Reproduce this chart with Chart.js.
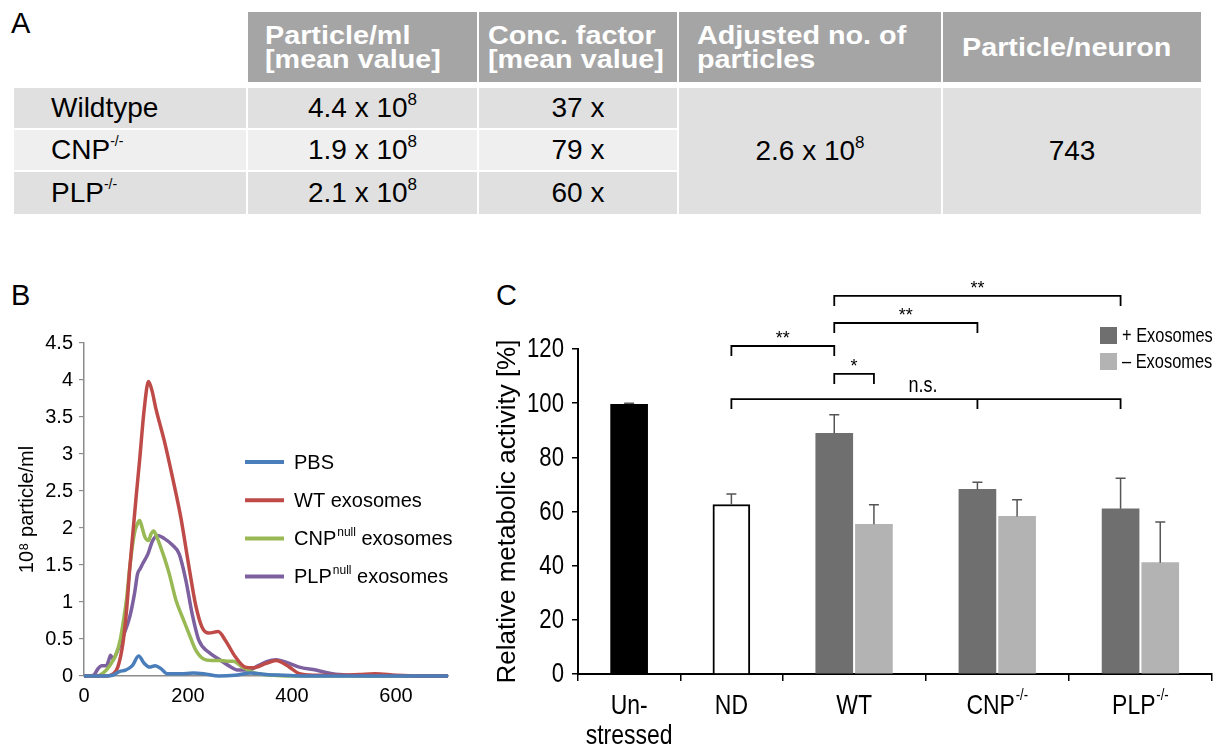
<!DOCTYPE html>
<html>
<head>
<meta charset="utf-8">
<script src="https://cdn.jsdelivr.net/npm/chart.js@4.4.0/dist/chart.umd.min.js"></script>
<style>
  body { margin: 0; width: 1213px; height: 747px; position: relative; background: #fff; overflow: hidden;
         font-family: 'Liberation Sans', Arial, sans-serif; color: #000; }
  .panel { position: absolute; font-size: 29px; line-height: 29px; }
  #tbl { position: absolute; left: 14px; top: 12px; display: grid;
         grid-template-columns: 232px 229px 198px 262px 258px;
         grid-template-rows: 70px 2px 40px 40px 42px; gap: 2px; }
  #tbl > div { display: flex; align-items: center; }
  .hd { background: #a5a5a5; color: #fff; font-weight: bold; font-size: 25px; line-height: 24px; padding-left: 17px; }
  .hd span { display: inline-block; transform: scaleX(1.15); transform-origin: left center; white-space: nowrap; }
  .bd { font-size: 28px; justify-content: center; }
  .first { justify-content: flex-start !important; padding-left: 37px; }
  sup { font-size: 17px; vertical-align: baseline; position: relative; top: -8px; line-height: 0; }
  .first sup { font-size: 14px; top: -9px; }
  canvas { position: absolute; }
</style>
</head>
<body>
<div class="panel" style="left:11px;top:9px">A</div>
<div class="panel" style="left:11px;top:281px">B</div>
<div class="panel" style="left:496px;top:281px">C</div>
<div id="tbl"></div>
<canvas id="chartB" width="480" height="467" style="left:0;top:280px"></canvas>
<canvas id="chartC" width="733" height="477" style="left:480px;top:270px"></canvas>
<script>
// ---------- panel A table ----------
const tableHeaders = [['Particle/ml', '[mean value]'], ['Conc. factor', '[mean value]'], ['Adjusted no. of', 'particles'], ['Particle/neuron']];
const headerPad = [17, 9, 18, 19];
const genotypes = ['Wildtype', 'CNP', 'PLP'];
const genotypeSup = ['', '-/-', '-/-'];
const particlesPerMl = [4.4, 1.9, 2.1];   // x 10^8
const concFactor = [37, 79, 60];
const adjustedParticles = 2.6;            // x 10^8
const particlePerNeuron = 743;

// ---------- panel B line chart ----------
const pbsX = [0, 40, 55, 68, 80, 93, 105, 116, 126, 137, 148, 160, 185, 210, 230, 260, 290, 320, 350, 385, 420, 500, 600, 700];
const pbsY = [0, 0, 0.01, 0.06, 0.08, 0.14, 0.27, 0.17, 0.12, 0.14, 0.1, 0.03, 0.03, 0.04, 0.03, 0, 0.01, 0.04, 0.02, 0.01, 0, 0, 0, 0];
const wtX = [0, 40, 56, 65, 75, 82, 88, 94, 100, 107, 116, 124, 131, 138, 154, 170, 186, 202, 215, 227, 240, 258, 272, 291, 310, 324, 350, 369, 395, 414, 440, 500, 530, 560, 600, 650, 700];
const wtY = [0, 0, 0.03, 0.12, 0.45, 0.9, 1.45, 1.93, 2.4, 2.92, 3.62, 3.98, 3.85, 3.62, 3.19, 2.69, 2.15, 1.47, 0.95, 0.66, 0.58, 0.6, 0.48, 0.26, 0.12, 0.11, 0.17, 0.21, 0.12, 0.03, 0.01, 0.01, 0.02, 0.03, 0.01, 0, 0];
const cnpX = [0, 25, 43, 55, 62, 70, 75, 82, 88, 97, 103, 107, 112, 117, 124, 129, 134, 140, 147, 154, 164, 177, 189, 202, 215, 230, 245, 260, 275, 287, 305, 324, 345, 365, 400, 500, 600, 700];
const cnpY = [0, 0, 0.08, 0.2, 0.3, 0.5, 0.71, 1.05, 1.47, 1.93, 2.06, 2.1, 2.0, 1.88, 1.83, 1.92, 1.96, 1.88, 1.75, 1.61, 1.38, 1.02, 0.8, 0.57, 0.35, 0.23, 0.21, 0.21, 0.2, 0.2, 0.12, 0.05, 0.02, 0.01, 0, 0, 0, 0];
const plpX = [0, 12, 20, 27, 34, 43, 48, 51, 56, 62, 68, 75, 88, 97, 103, 108, 113, 123, 132, 142, 154, 170, 183, 196, 208, 221, 240, 259, 278, 297, 316, 335, 350, 369, 395, 414, 446, 478, 510, 560, 700];
const plpY = [0, 0, 0.02, 0.1, 0.14, 0.14, 0.22, 0.28, 0.23, 0.3, 0.4, 0.53, 0.8, 1.11, 1.38, 1.45, 1.52, 1.65, 1.83, 1.9, 1.86, 1.77, 1.65, 1.29, 0.84, 0.48, 0.32, 0.23, 0.14, 0.08, 0.08, 0.14, 0.19, 0.22, 0.17, 0.12, 0.08, 0.03, 0.01, 0, 0];
const bLabels = [['PBS', ''], ['WT exosomes', ''], ['CNP', 'null', ' exosomes'], ['PLP', 'null', ' exosomes']];
const bXTicks = [0, 200, 400, 600];

// ---------- panel C bar chart ----------
const cCategories = [['Un-', 'stressed'], ['ND'], ['WT'], ['CNP'], ['PLP']];
const cCategorySup = ['', '', '', '-/-', '-/-'];
const unstressed = [99.6], unstressedErr = [0.4];
const noDonor = [62.6], noDonorErr = [3.9];
const plusExo = [88.9, 68.2, 61.0], plusExoErr = [6.8, 2.6, 11.3];
const minusExo = [55.3, 58.2, 41.1], minusExoErr = [7.2, 6.1, 15.0];
const cLegend = ['+ Exosomes', '\u2013 Exosomes'];
// significance brackets: [dataset, index] endpoints, height in % units
const brackets = [
  { a: [1, 0], b: [2, 0], y: 121.1, text: '**' },
  { a: [2, 0], b: [3, 0], y: 110.8, text: '*' },
  { a: [2, 0], b: [2, 1], y: 129.6, text: '**' },
  { a: [2, 0], b: [2, 2], y: 139.6, text: '**' },
  { a: [1, 0], b: [2, 2], mid: [2, 1], y: 101.5, text: 'n.s.' }
];

const SANS = "'Liberation Sans', Arial, sans-serif";
const NARROW_X = 0.82;   // horizontal squeeze to mimic Arial Narrow

// build table
const tbl = document.getElementById('tbl');
function cell(html, cls, col, row, extra) {
  const d = document.createElement('div');
  d.className = cls;
  d.innerHTML = html;
  d.style.gridColumn = col;
  d.style.gridRow = row;
  if (extra) Object.assign(d.style, extra);
  tbl.appendChild(d);
}
tableHeaders.forEach((h, i) => cell('<span>' + h.join('<br>') + '</span>', 'hd', String(i + 2), '1', { paddingLeft: headerPad[i] + 'px' }));
const rowBg = ['#e0e0e0', '#efefef', '#e0e0e0'];
genotypes.forEach((g, r) => {
  const row = String(r + 3);
  cell(g + (genotypeSup[r] ? '<sup>' + genotypeSup[r] + '</sup>' : ''), 'bd first', '1', row, { background: rowBg[r] });
  cell(particlesPerMl[r].toFixed(1) + ' x 10<sup>8</sup>', 'bd', '2', row, { background: rowBg[r] });
  cell(concFactor[r] + ' x', 'bd', '3', row, { background: rowBg[r] });
});
cell(adjustedParticles.toFixed(1) + ' x 10<sup>8</sup>', 'bd', '4', '3 / 6', { background: '#e0e0e0' });
cell(String(particlePerNeuron), 'bd', '5', '3 / 6', { background: '#e0e0e0' });

// text with optional superscript; sx = horizontal squeeze
function drawSupText(ctx, parts, x, y, size, align, sx) {
  sx = sx || 1;
  const base = size + 'px ' + SANS, small = Math.round(size * 0.58) + 'px ' + SANS;
  ctx.font = base; const w0 = ctx.measureText(parts[0]).width;
  ctx.font = small; const w1 = parts[1] ? ctx.measureText(parts[1]).width + 1 : 0;
  ctx.font = base; const w2 = parts[2] ? ctx.measureText(parts[2]).width : 0;
  const total = w0 + w1 + w2;
  ctx.save();
  ctx.translate(x, y);
  ctx.scale(sx, 1);
  let px = align === 'center' ? -total / 2 : align === 'right' ? -total : 0;
  ctx.textAlign = 'left'; ctx.textBaseline = 'middle';
  ctx.font = base; ctx.fillText(parts[0], px, 0);
  if (parts[1]) { ctx.font = small; ctx.fillText(parts[1], px + w0 + 1, -size * 0.36); }
  if (parts[2]) { ctx.font = base; ctx.fillText(parts[2], px + w0 + w1, 0); }
  ctx.restore();
}

// ---------- chart B ----------
const bSeries = [
  { x: pbsX, y: pbsY, color: '#4a7ebb' },
  { x: wtX, y: wtY, color: '#be4b48' },
  { x: cnpX, y: cnpY, color: '#98b954' },
  { x: plpX, y: plpY, color: '#7d60a0' }
];
const legendB = {
  id: 'legendB',
  afterDraw(chart) {
    const ctx = chart.ctx;
    ctx.save();
    chart.data.datasets.forEach((ds, i) => {
      const y = 182 + i * 38.2;
      ctx.strokeStyle = ds.borderColor; ctx.lineWidth = 4; ctx.lineCap = 'butt';
      ctx.beginPath(); ctx.moveTo(245, y); ctx.lineTo(284, y); ctx.stroke();
      ctx.fillStyle = '#000';
      drawSupText(ctx, bLabels[i], 294, y + 1, 20, 'left');
    });
    ctx.restore();
  }
};
new Chart(document.getElementById('chartB'), {
  type: 'line',
  data: {
    datasets: bSeries.map(s => ({
      data: s.x.map((x, i) => ({ x: x, y: s.y[i] })),
      borderColor: s.color,
      borderWidth: 3.5,
      cubicInterpolationMode: 'monotone',
      pointRadius: 0,
      clip: 6
    }))
  },
  options: {
    responsive: false, animation: false,
    layout: { padding: { left: 0, right: 32, top: 63, bottom: 0 } },
    plugins: { legend: { display: false }, tooltip: { enabled: false } },
    scales: {
      x: {
        type: 'linear', min: 0, max: 700,
        afterBuildTicks: s => { s.ticks = bXTicks.map(v => ({ value: v })); },
        afterFit: s => { s.height = 71; },
        ticks: { font: { family: SANS, size: 20 }, color: '#000', padding: 8, maxRotation: 0 },
        grid: { display: false, drawTicks: false },
        border: { color: '#8c8c8c', width: 1.5 }
      },
      y: {
        min: 0, max: 4.5,
        afterFit: s => { s.width = 84; },
        ticks: { stepSize: 0.5, font: { family: SANS, size: 20 }, color: '#000', padding: 6, callback: v => String(v) },
        grid: { drawOnChartArea: false, tickLength: 5, color: '#8c8c8c', lineWidth: 1.2 },
        border: { color: '#8c8c8c', width: 1.5 },
        title: { display: true, text: '10\u2078 particle/ml', font: { family: SANS, size: 20 }, color: '#000', padding: { top: 15 } }
      }
    }
  },
  plugins: [legendB]
});

// ---------- chart C ----------
const groupUnits = [5, 5, 7, 7, 7];
const bounds = [0];
groupUnits.forEach(u => bounds.push(bounds[bounds.length - 1] + u));
const centers = groupUnits.map((u, i) => bounds[i] + u / 2);
const pairOff = 0.97;
const cErrors = [unstressedErr, noDonorErr, plusExoErr, minusExoErr];

const extrasC = {
  id: 'extrasC',
  afterDraw(chart) {
    const ctx = chart.ctx, xs = chart.scales.x, ys = chart.scales.y;
    ctx.save();
    // error bars
    ctx.strokeStyle = '#555'; ctx.lineWidth = 1.5;
    chart.data.datasets.forEach((ds, di) => {
      chart.getDatasetMeta(di).data.forEach((bar, j) => {
        const v = ds.data[j].y, e = cErrors[di][j];
        const y0 = ys.getPixelForValue(v), y1 = ys.getPixelForValue(v + e);
        ctx.beginPath();
        ctx.moveTo(bar.x, y0); ctx.lineTo(bar.x, y1);
        ctx.moveTo(bar.x - 5, y1); ctx.lineTo(bar.x + 5, y1);
        ctx.stroke();
      });
    });
    ctx.fillStyle = '#000';
    // y tick labels (narrow)
    ys.ticks.forEach(t => drawSupText(ctx, [String(t.value)], xs.left - 14, ys.getPixelForValue(t.value) + 1, 27, 'right', NARROW_X));
    // category labels
    cCategories.forEach((lines, i) => {
      const cx = xs.getPixelForValue(centers[i]);
      lines.forEach((t, k) => drawSupText(ctx, [t, k === 0 ? cCategorySup[i] : ''], cx, 436 + k * 30, 28, 'center', NARROW_X));
    });
    // brackets
    const px = p => chart.getDatasetMeta(p[0]).data[p[1]].x;
    ctx.strokeStyle = '#000'; ctx.lineWidth = 1.8;
    brackets.forEach(b => {
      const x1 = px(b.a), x2 = px(b.b), y = ys.getPixelForValue(b.y), leg = 10;
      ctx.beginPath();
      ctx.moveTo(x1, y + leg); ctx.lineTo(x1, y); ctx.lineTo(x2, y); ctx.lineTo(x2, y + leg);
      if (b.mid) { const xm = px(b.mid); ctx.moveTo(xm, y); ctx.lineTo(xm, y + leg); }
      ctx.stroke();
      if (b.text === 'n.s.') drawSupText(ctx, [b.text], (x1 + x2) / 2 - 3, y - 13, 22, 'center', NARROW_X);
      else drawSupText(ctx, [b.text], (x1 + x2) / 2, y - 7, 18, 'center', 1);
    });
    // legend
    [2, 3].forEach((di, k) => {
      const y = 57 + k * 26;
      ctx.fillStyle = chart.data.datasets[di].backgroundColor;
      ctx.fillRect(620, y, 17, 17);
      ctx.fillStyle = '#000';
      drawSupText(ctx, [cLegend[k]], 642, y + 9, 20, 'left', NARROW_X);
    });
    ctx.restore();
  }
};

new Chart(document.getElementById('chartC'), {
  type: 'bar',
  data: {
    datasets: [
      { data: unstressed.map(v => ({ x: centers[0], y: v })), backgroundColor: '#000' },
      { data: noDonor.map(v => ({ x: centers[1], y: v })), backgroundColor: '#fff', borderColor: '#000', borderWidth: 2, borderSkipped: 'start' },
      { data: plusExo.map((v, i) => ({ x: centers[i + 2] - pairOff, y: v })), backgroundColor: '#6f6f6f' },
      { data: minusExo.map((v, i) => ({ x: centers[i + 2] + pairOff, y: v })), backgroundColor: '#b3b3b3' }
    ]
  },
  options: {
    responsive: false, animation: false,
    datasets: { bar: { barThickness: 37, grouped: false } },
    layout: { padding: { left: 0, right: 1, top: 79, bottom: 0 } },
    plugins: { legend: { display: false }, tooltip: { enabled: false } },
    scales: {
      x: {
        type: 'linear', min: 0, max: bounds[bounds.length - 1], offset: false,
        afterBuildTicks: s => { s.ticks = bounds.map(v => ({ value: v })); },
        afterFit: s => { s.height = 73; },
        ticks: { callback: () => '', padding: 0 },
        grid: { drawOnChartArea: false, offset: false, tickLength: 7, color: '#000', lineWidth: 1.5 },
        border: { color: '#000', width: 2 }
      },
      y: {
        min: 0, max: 120,
        afterFit: s => { s.width = 98; },
        ticks: { stepSize: 20, display: false },
        grid: { drawOnChartArea: false, tickLength: 6, color: '#000', lineWidth: 1.5 },
        border: { color: '#000', width: 2 },
        title: { display: true, text: 'Relative metabolic activity [%]', font: { family: SANS, size: 26 }, color: '#000', padding: { top: 12 } }
      }
    }
  },
  plugins: [extrasC]
});
</script>
</body>
</html>
